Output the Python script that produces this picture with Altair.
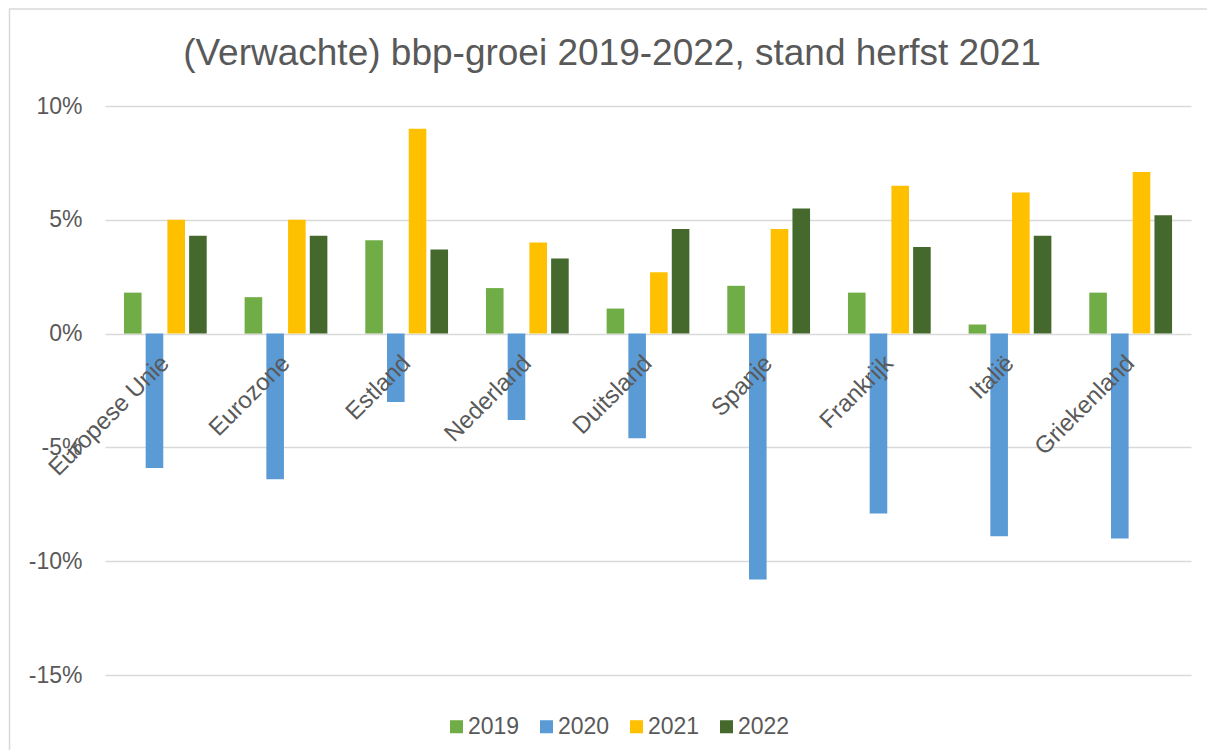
import altair as alt
import pandas as pd

categories = ["Europese Unie", "Eurozone", "Estland", "Nederland", "Duitsland",
              "Spanje", "Frankrijk", "Italië", "Griekenland"]
years = ["2019", "2020", "2021", "2022"]
g2019 = [1.8, 1.6, 4.1, 2.0, 1.1, 2.1, 1.8, 0.4, 1.8]
g2020 = [-5.9, -6.4, -3.0, -3.8, -4.6, -10.8, -7.9, -8.9, -9.0]
g2021 = [5.0, 5.0, 9.0, 4.0, 2.7, 4.6, 6.5, 6.2, 7.1]
g2022 = [4.3, 4.3, 3.7, 3.3, 4.6, 5.5, 3.8, 4.3, 5.2]
colors = ["#70AD47", "#5B9BD5", "#FFC000", "#45692D"]
y_ticks = [-15, -10, -5, 0, 5, 10]
title_text = "(Verwachte) bbp-groei 2019-2022, stand herfst 2021"

rows = []
for yr, vals in zip(years, [g2019, g2020, g2021, g2022]):
    for c, v in zip(categories, vals):
        rows.append({"land": c, "jaar": yr, "groei": v})
df = pd.DataFrame(rows)
cat_df = pd.DataFrame({"land": categories})

FONT = "Liberation Sans"
GREY = "#595959"
W, H = 1086, 569

x_enc = alt.X("land:N", sort=categories, axis=None,
              scale=alt.Scale(paddingInner=0.28, paddingOuter=0.14))

bars = alt.Chart(df).mark_bar().encode(
    x=x_enc,
    xOffset=alt.XOffset("jaar:N", sort=years,
                        scale=alt.Scale(paddingInner=0.19, paddingOuter=0.095)),
    y=alt.Y("groei:Q", title=None,
            scale=alt.Scale(domain=[-15, 10], nice=False, zero=False),
            axis=alt.Axis(values=y_ticks, labelExpr="datum.value + '%'",
                          ticks=False, tickSize=0, domain=False, labelPadding=23,
                          labelFontSize=23, labelColor=GREY, labelFont=FONT,
                          gridColor="#D9D9D9", gridWidth=1.5)),
    color=alt.Color("jaar:N", sort=years,
                    scale=alt.Scale(domain=years, range=colors),
                    legend=alt.Legend(title=None, orient="none", direction="horizontal",
                                      legendX=340, legendY=609,
                                      symbolType="square", symbolSize=170,
                                      symbolStrokeWidth=0, labelOffset=0,
                                      columnPadding=15,
                                      labelFontSize=23, labelColor=GREY, labelFont=FONT)),
)

labels = alt.Chart(cat_df).mark_text(
    angle=315, align="right", baseline="middle", fontSize=24,
    font=FONT, color=GREY, dx=-18.4, dy=18.6
).encode(
    x=x_enc,
    y=alt.datum(0),
    text="land:N",
)

title = alt.Chart(pd.DataFrame({"t": [title_text]})).mark_text(
    align="center", baseline="alphabetic", fontSize=37, font=FONT, color=GREY
).encode(
    x=alt.value(507), y=alt.value(-41), text="t:N"
)

frame = alt.Chart(pd.DataFrame({"f": [0]})).mark_rect(
    fill=None, stroke="#D9D9D9", strokeWidth=1.5
).encode(
    x=alt.value(-95.5), x2=alt.value(W + 40),
    y=alt.value(-97), y2=alt.value(H + 120),
)

chart = alt.layer(frame, bars, labels, title).properties(
    width=W, height=H,
    autosize=alt.AutoSizeParams(type="none"),
    padding={"left": 97, "top": 98, "right": 16, "bottom": 75},
).configure_view(stroke=None)

chart.save("out.html", embed_options={"renderer": "svg", "actions": False})
